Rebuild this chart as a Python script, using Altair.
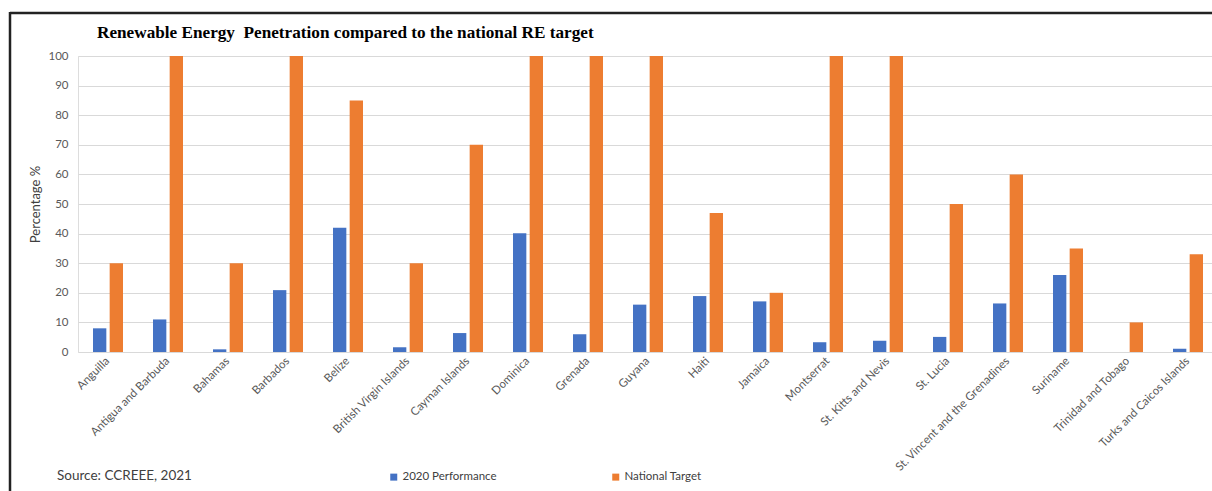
import altair as alt
import pandas as pd

countries = [
    "Anguilla", "Antigua and Barbuda", "Bahamas", "Barbados", "Belize",
    "British Virgin Islands", "Cayman Islands", "Dominica", "Grenada", "Guyana",
    "Haiti", "Jamaica", "Montserrat", "St. Kitts and Nevis", "St. Lucia",
    "St. Vincent and the Grenadines", "Suriname", "Trinidad and Tobago",
    "Turks and Caicos Islands",
]
performance_2020 = [8, 11, 0.9, 20.9, 42, 1.6, 6.4, 40.1, 6, 16,
                    18.9, 17.1, 3.3, 3.8, 5.1, 16.4, 26, 0, 1.1]
national_target = [30, 100, 30, 100, 85, 30, 70, 100, 100, 100,
                   47, 20, 100, 100, 50, 60, 35, 10, 33]
series_names = ["2020 Performance", "National Target"]
series_colors = ["#4472C4", "#ED7D31"]
y_ticks = [0, 10, 20, 30, 40, 50, 60, 70, 80, 90, 100]

rows = []
for c, p, t in zip(countries, performance_2020, national_target):
    rows.append({"country": c, "series": series_names[0], "value": p})
    rows.append({"country": c, "series": series_names[1], "value": t})
df = pd.DataFrame(rows)

FONT = "Lato"

bars = alt.Chart(df).mark_bar().encode(
    x=alt.X("country:N", sort=countries,
            scale=alt.Scale(range=[0, 1140], paddingInner=0.5, paddingOuter=0.25),
            axis=alt.Axis(title=None, labelAngle=-45, labelAlign="right",
                          labelBaseline="middle", labelPadding=7, domain=False,
                          ticks=False, labelFont=FONT, labelFontSize=11.5,
                          labelColor="#595959")),
    xOffset=alt.XOffset("series:N", sort=series_names,
                        scale=alt.Scale(paddingInner=0.2, paddingOuter=0)),
    y=alt.Y("value:Q", scale=alt.Scale(domain=[0, 100], nice=False),
            axis=alt.Axis(values=y_ticks, title="Percentage %", domain=False,
                          ticks=False, tickSize=0, labelPadding=10,
                          grid=True, gridColor="#D9D9D9", gridWidth=1,
                          labelFont=FONT, labelFontSize=11.5, labelColor="#595959",
                          titleFont=FONT, titleFontSize=13, titleFontWeight="normal",
                          titleColor="#404040", titleAngle=-90, titleX=-43,
                          titleY=148, titleAlign="center", titleBaseline="middle")),
    color=alt.Color("series:N", sort=series_names,
                    scale=alt.Scale(domain=series_names, range=series_colors),
                    legend=alt.Legend(title=None, orient="none", legendX=310,
                                      legendY=415, direction="horizontal",
                                      symbolType="square", symbolSize=49,
                                      symbolStrokeWidth=0, columnPadding=113,
                                      labelFont=FONT, labelFontSize=11.5,
                                      labelColor="#404040", labelOffset=3)),
)

one = alt.Data(values=[{"k": 1}])

source = alt.Chart(one).mark_text(
    align="left", baseline="alphabetic", font=FONT, fontSize=13.5, color="#404040"
).encode(x=alt.value(-21), y=alt.value(424), text=alt.value("Source: CCREEE, 2021"))

frame_top = alt.Chart(one).mark_rule(color="#222222", strokeWidth=2.5).encode(
    x=alt.value(-68), x2=alt.value(1140), y=alt.value(-43))
frame_left = alt.Chart(one).mark_rule(color="#222222", strokeWidth=2.5).encode(
    x=alt.value(-68), y=alt.value(-44), y2=alt.value(440))

chart = alt.layer(bars, source, frame_top, frame_left).properties(
    width=1134, height=296,
    title=alt.TitleParams(
        "Renewable Energy\u00a0 Penetration compared to the national RE target",
        anchor="start", frame="group", dx=19, dy=62, offset=18, baseline="alphabetic",
        font="Liberation Serif", fontSize=17.2, fontWeight="bold", color="black"),
    autosize=alt.AutoSizeParams(type="none"),
    padding={"left": 78, "top": 56, "right": 0, "bottom": 139},
).configure_view(stroke=None).configure(background="white")

chart.save("out.html", embed_options={"renderer": "svg", "actions": False})
